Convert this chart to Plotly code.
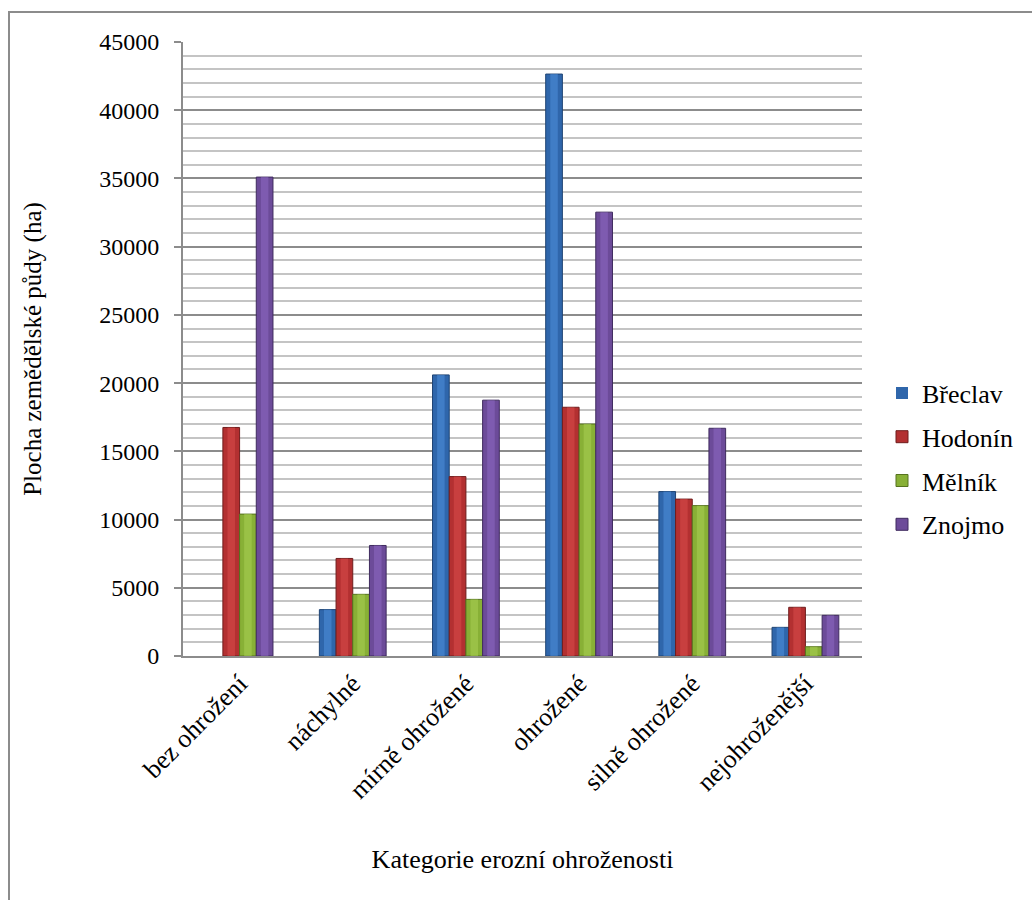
import plotly.graph_objects as go

# Erosion-risk categories and agricultural land area (ha) per district
categories = ["bez ohrožení", "náchylné", "mírně ohrožené", "ohrožené", "silně ohrožené", "nejohroženější"]
breclav = [0, 3400, 20600, 42650, 12050, 2100]
hodonin = [16750, 7150, 13150, 18230, 11500, 3570]
melnik = [10400, 4520, 4150, 17000, 11020, 680]
znojmo = [35100, 8100, 18750, 32530, 16690, 2980]

# name, values, body colour, edge colour, highlight colour
series = [
    ("Břeclav", breclav, "#2f66ab", "#1f4473", "#4e8fdc"),
    ("Hodonín", hodonin, "#b33031", "#6f1d1d", "#d84d4a"),
    ("Mělník", melnik, "#88b036", "#56731f", "#a9d053"),
    ("Znojmo", znojmo, "#6c4b99", "#3f2b5e", "#8e69c2"),
]

FONT = "Times New Roman, Liberation Serif, serif"

BAR_W = 0.1475
GROUP_W = BAR_W * len(series)
HL_W = BAR_W * 0.45

fig = go.Figure()
for i, (name, vals, fill, edge, hl) in enumerate(series):
    off = -GROUP_W / 2 + i * BAR_W
    fig.add_trace(go.Bar(
        x=categories, y=vals, name=name,
        width=BAR_W, offset=off,
        marker=dict(color=fill, line=dict(color=edge, width=[0 if v == 0 else 1 for v in vals])),
        legendgroup=name,
    ))
    # lighter central stripe giving the bars a rounded look
    fig.add_trace(go.Bar(
        x=categories, y=vals, name=name,
        width=HL_W, offset=off + (BAR_W - HL_W) / 2,
        marker=dict(color=hl, opacity=0.55, line=dict(width=0)),
        legendgroup=name, showlegend=False, hoverinfo="skip",
    ))

W, H = 1032, 900
ml, mr, mt, mb = 183, 170, 42, 244
pw, ph = W - ml - mr, H - mt - mb

fig.update_layout(
    width=W, height=H,
    margin=dict(l=ml, r=mr, t=mt, b=mb),
    paper_bgcolor="white", plot_bgcolor="white",
    barmode="overlay",
    font=dict(family=FONT, size=22, color="black"),
    legend=dict(
        x=(882 - ml) / pw, xanchor="left",
        y=(656 - 459) / ph, yanchor="middle",
        font=dict(family=FONT, size=26, color="black"),
        tracegroupgap=7, itemwidth=30,
        bgcolor="rgba(0,0,0,0)",
    ),
    xaxis=dict(
        tickangle=-45, tickfont=dict(family=FONT, size=26, color="black"),
        showline=True, linecolor="#8c8c8c", linewidth=2,
        ticks="", showgrid=False,
        title=dict(text="Kategorie erozní ohroženosti", font=dict(family=FONT, size=26), standoff=46),
    ),
    yaxis=dict(
        range=[0, 45000], dtick=5000, tickformat="d",
        tickfont=dict(family=FONT, size=24, color="black"),
        ticklabelstandoff=10,
        showline=True, linecolor="#8c8c8c", linewidth=2,
        ticks="outside", ticklen=7, tickcolor="#8c8c8c", tickwidth=2,
        showgrid=True, gridcolor="#8c8c8c", gridwidth=2,
        minor=dict(dtick=1000, showgrid=True, gridcolor="#c4c4c4", gridwidth=2),
        zeroline=False,
        title=dict(text="Plocha zemědělské půdy (ha)", font=dict(family=FONT, size=25), standoff=50),
    ),
    shapes=[dict(
        type="rect", xref="paper", yref="paper",
        x0=(9 - ml) / pw, x1=(1100 - ml) / pw,
        y0=(656 - 960) / ph, y1=(656 - 12) / ph,
        line=dict(color="#8c8c8c", width=2), fillcolor="rgba(0,0,0,0)", layer="below",
    )],
)

fig.write_html("out.html")
